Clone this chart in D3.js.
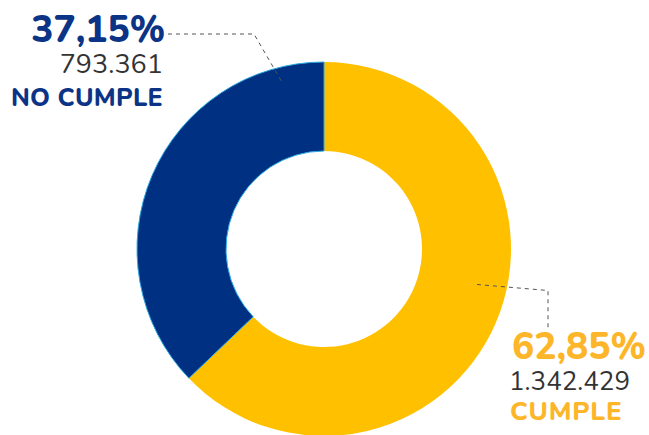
<!DOCTYPE html>
<html><head><meta charset="utf-8">
<script src="https://cdn.jsdelivr.net/npm/d3@7"></script>
<style>html,body{margin:0;padding:0;background:#fff;}svg{display:block;}</style>
</head><body>
<svg id="c" width="649" height="435"></svg>
<script>
const categories = ["CUMPLE", "NO CUMPLE"];
const values = [1342429, 793361];
const percentLabels = ["62,85%", "37,15%"];
const countLabels = ["1.342.429", "793.361"];
const colors = ["#FFC000", "#003082"];
const labelColors = ["#FDB62A", "#0B3386"];

const svg = d3.select("#c");
const cx = 324, cy = 249, rOuter = 187, rInner = 98;
const g = svg.append("g").attr("transform", `translate(${cx},${cy})`);
const pie = d3.pie().sort(null).value(d => d)(values);
const arc = d3.arc().innerRadius(rInner).outerRadius(rOuter);
g.selectAll("path").data(pie).join("path")
  .attr("d", arc)
  .attr("fill", (d, i) => colors[i])
  .attr("stroke", (d, i) => i === 1 ? "#29A8E0" : "none")
  .attr("stroke-width", 1);

const font = "'Nunito','Open Sans','Lato',sans-serif";
const lineColor = "#555";
svg.append("path").attr("d", "M168,34 L254,34 L283,84")
  .attr("fill", "none").attr("stroke", lineColor).attr("stroke-width", 1).attr("stroke-dasharray", "4,4");
svg.append("path").attr("d", "M477,284.5 L548,290.5 L548,330")
  .attr("fill", "none").attr("stroke", lineColor).attr("stroke-width", 1).attr("stroke-dasharray", "4,4");

// NO CUMPLE labels (left)
const L = svg.append("g").attr("font-family", font).attr("text-anchor", "end");
L.append("text").attr("x", 165).attr("y", 42).attr("font-size", 37).attr("font-weight", 800)
  .attr("fill", labelColors[1]).text(percentLabels[1]);
L.append("text").attr("x", 163).attr("y", 73).attr("font-size", 27)
  .attr("fill", "#333").text(countLabels[1]);
L.append("text").attr("x", 163).attr("y", 106).attr("font-size", 25).attr("font-weight", 800)
  .attr("letter-spacing", 0.3)
  .attr("fill", labelColors[1]).text(categories[1]);

// CUMPLE labels (right)
const R = svg.append("g").attr("font-family", font).attr("text-anchor", "start");
R.append("text").attr("x", 512).attr("y", 359).attr("font-size", 37).attr("font-weight", 800)
  .attr("fill", labelColors[0]).text(percentLabels[0]);
R.append("text").attr("x", 509).attr("y", 390).attr("font-size", 26)
  .attr("fill", "#333").text(countLabels[0]);
R.append("text").attr("x", 510).attr("y", 420).attr("font-size", 26).attr("font-weight", 800)
  .attr("letter-spacing", 0.8)
  .attr("fill", labelColors[0]).text(categories[0]);
</script>
</body></html>
